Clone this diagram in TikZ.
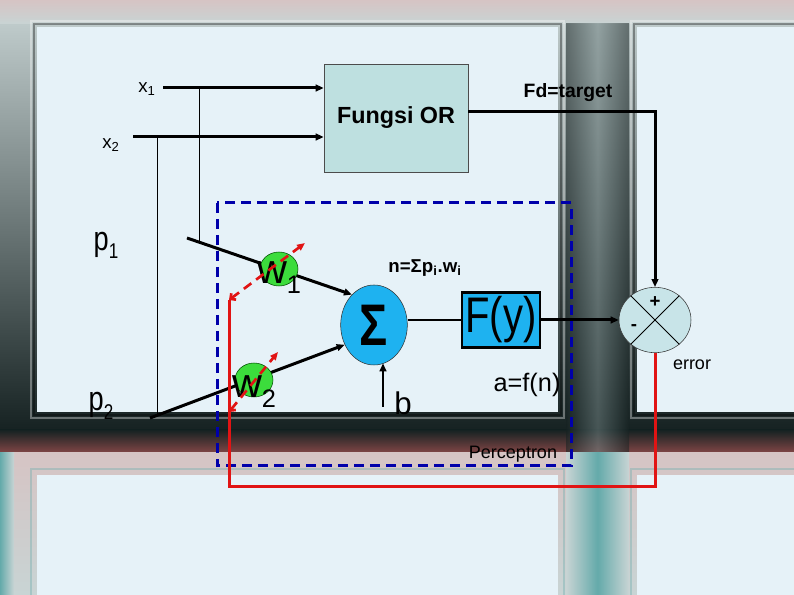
\documentclass[tikz,border=0pt]{standalone}
\usepackage{fontspec}
\setmainfont{Liberation Sans}
\newfontfamily\narrowsf[FakeStretch=0.8]{Liberation Sans}
\usepackage{tikz}
\usetikzlibrary{shapes.geometric, arrows.meta, calc}
\definecolor{paneblue}{RGB}{230,242,248}
\definecolor{framedark}{RGB}{22,34,34}
\definecolor{framelight}{RGB}{200,212,212}
\definecolor{frameteal}{RGB}{100,170,170}
\definecolor{framered}{RGB}{130,70,70}
\definecolor{framepink}{RGB}{214,196,196}
\definecolor{boxteal}{RGB}{190,224,224}
\definecolor{skyblue}{RGB}{30,178,240}
\definecolor{weightgreen}{RGB}{60,220,60}
\definecolor{sumgray}{RGB}{200,228,232}
\definecolor{signalred}{RGB}{225,20,20}
\definecolor{dashblue}{RGB}{0,0,170}
\tikzstyle{funcbox} = [rectangle, draw=black!70, fill=boxteal, minimum width=108pt, minimum height=81pt, font=\fontsize{17.5}{20}\selectfont\bfseries]
\tikzstyle{sumnode} = [ellipse, draw=black!80, fill=skyblue, minimum width=50pt, minimum height=60pt, inner sep=0pt, font=\narrowsf\bfseries\fontsize{44}{44}\selectfont]
\tikzstyle{actbox} = [rectangle, draw=black, line width=2pt, fill=skyblue, minimum width=58.5pt, minimum height=41pt, inner sep=0pt, font=\narrowsf\fontsize{37.5}{38}\selectfont]
\tikzstyle{weight} = [ellipse, draw=black!70!green, fill=weightgreen, minimum width=28.5pt, minimum height=25.5pt, inner sep=0pt]
\tikzstyle{compare} = [ellipse, draw=black!80, fill=sumgray, minimum width=54pt, minimum height=49pt]
\tikzstyle{arrow} = [line width=2.25pt, -{Triangle[length=6pt,width=5pt]}]
\tikzstyle{wire} = [line width=0.75pt]
\tikzstyle{feedback} = [line width=2.25pt, color=signalred]
\tikzstyle{adjust} = [line width=2pt, color=signalred, dash pattern=on 7pt off 4.5pt, {Straight Barb[length=3pt]}-{Triangle[length=6pt,width=5pt]}]
\tikzstyle{dashbox} = [line width=2.25pt, color=dashblue, dash pattern=on 7.5pt off 4.5pt]
\tikzstyle{inlabel} = [font=\fontsize{14}{16}\selectfont]
\tikzstyle{bevel} = [line width=1.5pt, opacity=0.35]

\begin{document}
\begin{tikzpicture}[x=0.75pt, y=-0.75pt]
\useasboundingbox (0,0) rectangle (794,595);

% Window frame
\shade[top color=framelight, middle color=frameteal!35!framedark, bottom color=framedark] (0,0) rectangle (794,430);
\shade[top color=framepink, bottom color=framelight] (0,0) rectangle (794,24);
\shade[top color=framedark, bottom color=framered] (0,430) rectangle (794,453);
\shade[left color=framedark, right color=framedark, middle color=frameteal!60!framered, opacity=0.55] (566,24) rectangle (629,453);
\shade[top color=framepink, bottom color=framelight] (0,453) rectangle (794,595);
\shade[left color=framelight, right color=framelight, middle color=frameteal] (566,453) rectangle (629,595);
\shade[left color=frameteal, right color=framelight] (0,453) rectangle (14,595);
\draw[bevel, white] (31,21) rectangle (564,418);
\draw[bevel, black] (34,24) rectangle (561,415);
\draw[bevel, white] (631,21) rectangle (800,418);
\draw[bevel, black] (634,24) rectangle (800,415);
\draw[bevel, frameteal] (31,469) rectangle (564,600);
\draw[bevel, frameteal] (631,469) rectangle (800,600);
\fill[paneblue] (37,27) rectangle (558,412);
\fill[paneblue] (637,27) rectangle (794,412);
\fill[paneblue] (37,475) rectangle (558,595);
\fill[paneblue] (637,475) rectangle (794,595);

% Perceptron region
\draw[dashbox] (217,203) rectangle (571,466);

% Blocks
\node[funcbox] (or) at (396,118) {Fungsi OR};
\node[sumnode] (sigma) at (374,325) {Σ};
\node[actbox] (fy) at (501,320) {F(y)};
\node[compare] (cmp) at (655,320) {};

% Labels
\node[inlabel] (x1) at (147,89) {x\textsubscript{1}};
\node[inlabel] (x2) at (111,145) {x\textsubscript{2}};
\node[font=\narrowsf\fontsize{25.5}{26}\selectfont] (p1) at (106,245) {p\raisebox{-6pt}{\fontsize{16}{16}\selectfont 1}};
\node[font=\narrowsf\fontsize{25.5}{26}\selectfont] (p2) at (101,406) {p\raisebox{-6.5pt}{\fontsize{16}{16}\selectfont 2}};
\node[font=\fontsize{14.5}{16}\selectfont\bfseries] (target) at (568,93) {Fd=target};
\node[font=\fontsize{14}{16}\selectfont\bfseries] (net) at (425,268) {n=Σp\textsubscript{i}.w\textsubscript{i}};
\node[font=\fontsize{23.5}{24}\selectfont] (bias) at (403,403) {b};
\node[font=\fontsize{19}{20}\selectfont] (act) at (527,385) {a=f(n)};
\node[font=\fontsize{13.5}{15}\selectfont] (err) at (692,365) {error};
\node[font=\fontsize{13.5}{15}\selectfont] (perc) at (513,454) {Perceptron};
\node[font=\fontsize{14}{16}\selectfont\bfseries] (plus) at (655,302) {+};
\node[font=\fontsize{14}{16}\selectfont\bfseries] (minus) at (634,328) {-};
\draw[line width=0.6pt] (cmp.135) -- (cmp.-45);
\draw[line width=0.6pt] (cmp.45) -- (cmp.-135);

% Line ends
\coordinate (x1s) at (163,88);
\coordinate (x2s) at (133,137);
\coordinate (t1) at (199,88);
\coordinate (t1b) at (199,242);
\coordinate (t2) at (157,137);
\coordinate (t2b) at (157,416);
\coordinate (p1s) at (187,238);
\coordinate (p2s) at (150,418);
\coordinate (bs) at (383,407);
\coordinate (fd) at (655,112);
\coordinate (errb) at (229,487);
\coordinate (fb1) at (229,300);
\coordinate (fb2) at (229,412);
\coordinate (adj1) at (305,243);
\coordinate (adj2) at (278,352);

% Inputs
\draw[arrow] (x1s) -- (x1s -| or.west);
\draw[arrow] (x2s) -- (x2s -| or.west);
\draw[wire] (t1) -- (t1b);
\draw[wire] (t2) -- (t2b);
\draw[arrow] (p1s) -- (sigma.126);
\draw[arrow] (p2s) -- (sigma.214);
\draw[arrow, line width=1.5pt] (bs) -- (bs |- sigma.-75);

% Output side
\draw[line width=1.5pt] (fy.west -| sigma.east) -- (fy.west);
\draw[arrow] (fy.east) -- (cmp.west);
\draw[arrow] (fd -| or.east) -- (fd) -- (cmp.north);

% Weights
\node[weight, label={[yshift=-6.5pt]center:{\fontsize{31}{31}\selectfont w\raisebox{-7.5pt}{\fontsize{19}{19}\selectfont 1}}}] (w1) at (279,269) {};
\node[weight, label={[yshift=-8.5pt]center:{\fontsize{31}{31}\selectfont w\raisebox{-7.5pt}{\fontsize{19}{19}\selectfont 2}}}] (w2) at (254,380) {};

% Error feedback
\draw[feedback] (cmp.south) |- (errb) -- (fb1);
\draw[adjust] (fb1) -- (adj1);
\draw[adjust] (fb2) -- (adj2);

\end{tikzpicture}
\end{document}
